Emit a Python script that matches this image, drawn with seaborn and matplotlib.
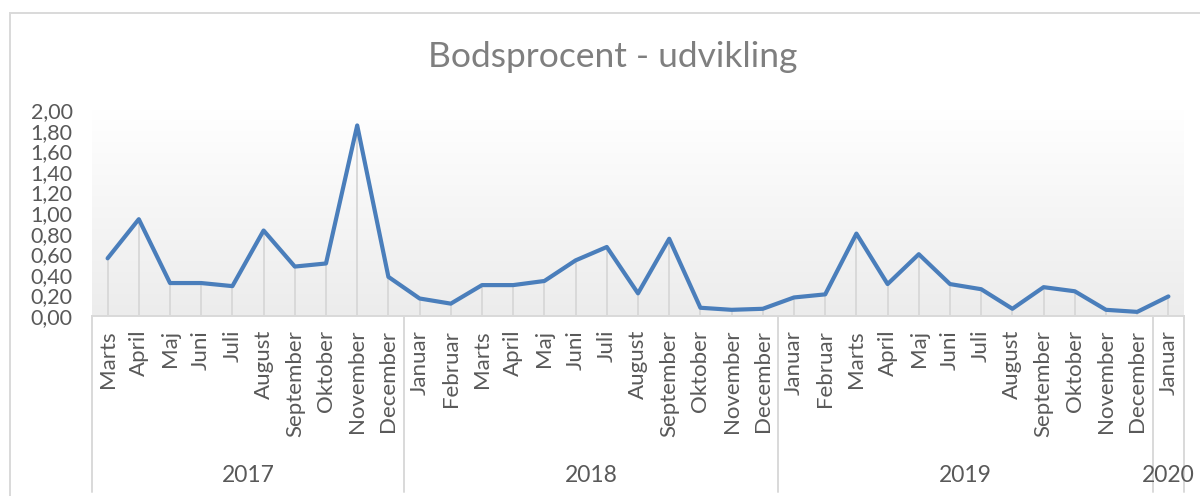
import numpy as np
import pandas as pd
import matplotlib
matplotlib.use("Agg")
import matplotlib.pyplot as plt
import matplotlib.transforms as mtransforms
from matplotlib.colors import LinearSegmentedColormap
from matplotlib.patches import Rectangle
import seaborn as sns

# data
months = ['Marts', 'April', 'Maj', 'Juni', 'Juli', 'August', 'September', 'Oktober', 'November', 'December',
          'Januar', 'Februar', 'Marts', 'April', 'Maj', 'Juni', 'Juli', 'August', 'September', 'Oktober', 'November', 'December',
          'Januar', 'Februar', 'Marts', 'April', 'Maj', 'Juni', 'Juli', 'August', 'September', 'Oktober', 'November', 'December',
          'Januar']
years = ['2017'] * 10 + ['2018'] * 12 + ['2019'] * 12 + ['2020']
bodsprocent = [0.56, 0.94, 0.32, 0.32, 0.29, 0.83, 0.48, 0.51, 1.85, 0.38,
               0.17, 0.12, 0.30, 0.30, 0.34, 0.54, 0.67, 0.22, 0.75, 0.08, 0.06, 0.07,
               0.18, 0.21, 0.80, 0.31, 0.60, 0.31, 0.26, 0.07, 0.28, 0.24, 0.06, 0.04,
               0.19]
y_ticks = [0.0, 0.2, 0.4, 0.6, 0.8, 1.0, 1.2, 1.4, 1.6, 1.8, 2.0]

df = pd.DataFrame({'pos': np.arange(len(bodsprocent)), 'maaned': months, 'aar': years, 'vaerdi': bodsprocent})

sns.set_theme(style="white")
plt.rcParams['font.family'] = ['Lato', 'DejaVu Sans']

txt = '#595959'
grey_line = '#d9d9d9'
blue = '#4a7ebb'

fig = plt.figure(figsize=(12, 4.96), dpi=100)
H = 496
ax = fig.add_axes([92 / 1200, 1 - 316 / H, (1184 - 92) / 1200, (316 - 110) / H])

# gradient plot area
cmap = LinearSegmentedColormap.from_list('grad', ['#ffffff', '#ececec'])
grad = np.linspace(0, 1, 256).reshape(-1, 1)
ax.imshow(grad, extent=(-0.5, len(df) - 0.5, 0, 2.0), aspect='auto', cmap=cmap, origin='upper', zorder=0)

# drop lines
ax.vlines(df['pos'], 0, df['vaerdi'], color=grey_line, lw=1.4, zorder=1)
sns.lineplot(data=df, x='pos', y='vaerdi', ax=ax, color=blue, lw=3.0, zorder=3)

ax.set_xlim(-0.5, len(df) - 0.5)
ax.set_ylim(0, 2.0)
ax.set_yticks(y_ticks)
ax.set_yticklabels([f'{v:.2f}'.replace('.', ',') for v in y_ticks])
ax.set_xticks(df['pos'])
ax.set_xticklabels(df['maaned'], rotation=90, va='top', ha='center')
ax.tick_params(axis='x', length=0, pad=10, labelsize=16, labelcolor=txt)
ax.tick_params(axis='y', length=0, pad=14, labelsize=15.5, labelcolor=txt)
ax.set_xlabel('')
ax.set_ylabel('')
for s in ['top', 'right', 'left']:
    ax.spines[s].set_visible(False)
ax.spines['bottom'].set_color(grey_line)
ax.spines['bottom'].set_linewidth(1.4)

# multi-level category axis
trans = mtransforms.blended_transform_factory(ax.transData, fig.transFigure)
y_top = 1 - 316 / H
y_bot = 1 - 492 / H
bounds = [-0.5] + [i - 0.5 for i in range(1, len(years)) if years[i] != years[i - 1]] + [len(years) - 0.5]
for b in bounds:
    ax.plot([b, b], [y_top, y_bot], transform=trans, color=grey_line, lw=1.4, clip_on=False)
for yr in dict.fromkeys(years):
    center = df.loc[df['aar'] == yr, 'pos'].mean()
    ax.text(center, 1 - 476 / H, yr, transform=trans, ha='center', va='center', fontsize=16.5, color=txt)

# title
fig.text(613 / 1200, 1 - 57 / H, 'Bodsprocent - udvikling', ha='center', va='center', fontsize=25.5, color='#7f7f7f')

# chart border
fig.patches.append(Rectangle((10 / 1200, -0.1), 1.2, 1 - 13 / H + 0.1, transform=fig.transFigure,
                             fill=False, edgecolor=grey_line, lw=1.4))

fig.savefig('out.png', dpi=100)
